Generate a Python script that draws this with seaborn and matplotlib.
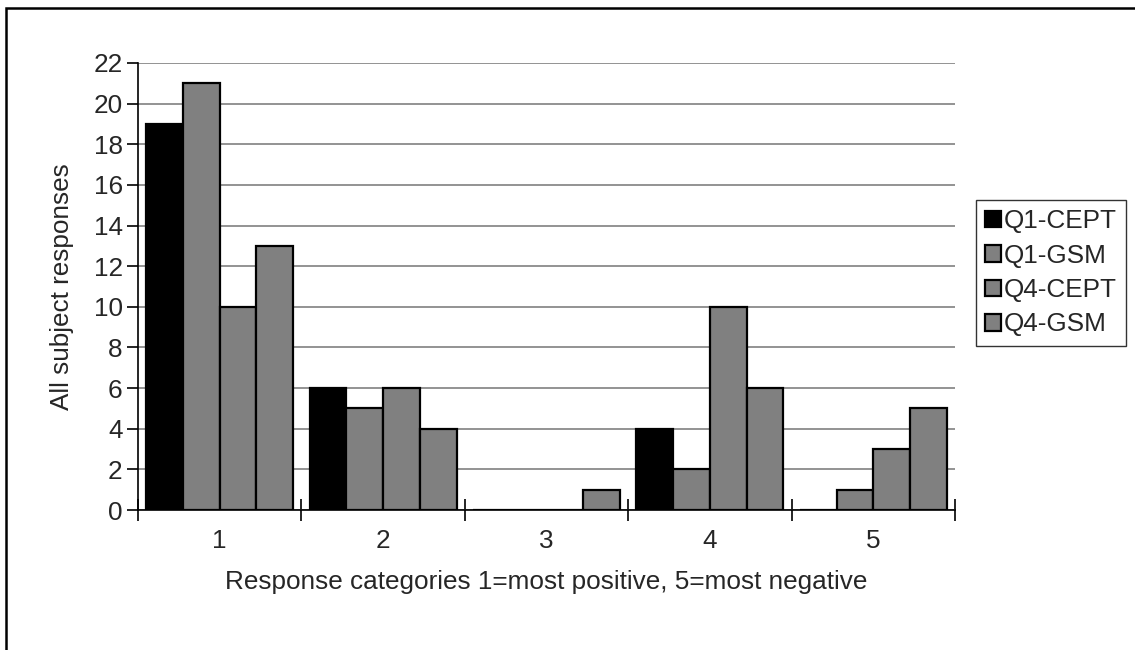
import matplotlib
matplotlib.use("Agg")
import matplotlib.pyplot as plt
from matplotlib.patches import Rectangle, Patch
import numpy as np
import pandas as pd
import seaborn as sns

categories = ["1", "2", "3", "4", "5"]
series = ["Q1-CEPT", "Q1-GSM", "Q4-CEPT", "Q4-GSM"]
q1_cept = [19, 6, 0, 4, 0]
q1_gsm = [21, 5, 0, 2, 1]
q4_cept = [10, 6, 0, 10, 3]
q4_gsm = [13, 4, 1, 6, 5]
colors = ["#000000", "#808080", "#808080", "#808080"]
y_ticks = list(range(0, 23, 2))

sns.set_style("white")
plt.rcParams["font.family"] = ["Liberation Sans", "DejaVu Sans"]
FS = 18.8

values = [q1_cept, q1_gsm, q4_cept, q4_gsm]
rows = []
for s, vals in zip(series, values):
    for c, v in zip(categories, vals):
        rows.append({"cat": c, "series": s, "val": v})
df = pd.DataFrame(rows)

fig = plt.figure(figsize=(11.35, 6.5), dpi=100)
ax = fig.add_axes([138 / 1135, 1 - 510 / 650, (955 - 138) / 1135, (510 - 63) / 650])

sns.barplot(data=df, x="cat", y="val", hue="series", hue_order=series,
            order=categories, palette=colors, width=0.9, gap=0,
            edgecolor="black", linewidth=1.6, saturation=1, ax=ax,
            legend=False, zorder=3)

ax.set_xlim(-0.5, len(categories) - 0.5)
ax.set_ylim(0, 22)
ax.set_yticks(y_ticks)
ax.set_yticklabels([str(t) for t in y_ticks], fontsize=FS)
ax.yaxis.grid(True, color="#808080", linewidth=1.2, zorder=0)
ax.set_axisbelow(True)

# x ticks: boundaries as major, labels at centers as minor
ax.set_xticks(np.arange(-0.5, len(categories), 1.0))
ax.set_xticklabels([])
ax.set_xticks(np.arange(len(categories)), minor=True)
ax.set_xticklabels(categories, minor=True, fontsize=FS)
ax.tick_params(axis="x", which="major", bottom=True, direction="inout", length=16, width=1.2, color="black")
ax.tick_params(axis="x", which="minor", bottom=True, length=0, pad=14)
ax.tick_params(axis="y", left=True, direction="out", length=8, width=1.2, color="black", pad=3)

for sp in ["top", "right"]:
    ax.spines[sp].set_visible(False)
for sp in ["left", "bottom"]:
    ax.spines[sp].set_color("black")
    ax.spines[sp].set_linewidth(1.2)
    ax.spines[sp].set_zorder(5)

ax.set_xlabel("Response categories 1=most positive, 5=most negative", fontsize=FS, labelpad=12)
ax.set_ylabel("All subject responses", fontsize=FS, labelpad=14)

handles = [Patch(facecolor=c, edgecolor="black", linewidth=1.6) for c in colors]
leg = fig.legend(handles, series, loc="upper left",
                 bbox_to_anchor=(976 / 1135, 1 - 200 / 650),
                 fontsize=FS, frameon=True, fancybox=False, edgecolor="black",
                 handlelength=0.6, handleheight=0.6, handletextpad=0.12,
                 borderpad=0.35, labelspacing=0.4, borderaxespad=0)
leg.get_frame().set_linewidth(1.0)

fig.patches.append(Rectangle((6 / 1135, -0.1), 2.0, 1 - 8 / 650 + 0.1,
                             transform=fig.transFigure, fill=False,
                             edgecolor="black", linewidth=1.8))

fig.savefig("out.png", dpi=100, facecolor="white")
